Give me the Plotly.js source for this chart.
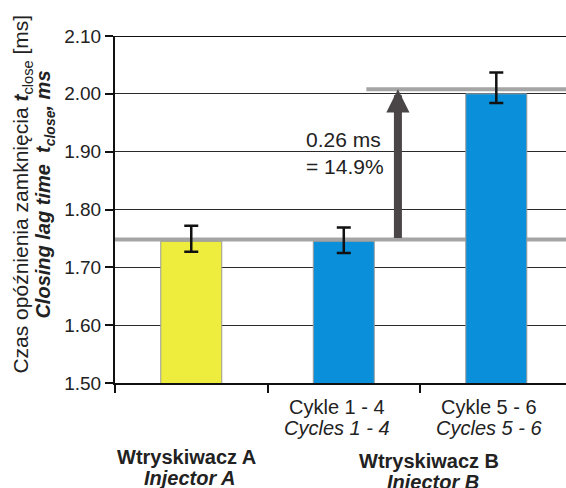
<!DOCTYPE html>
<html>
<head>
<meta charset="utf-8">
<script src="https://cdn.plot.ly/plotly-3.0.1.min.js"></script>
<style>
  html, body { margin: 0; padding: 0; background: #fff; }
  #chart { width: 566px; height: 488px; }
</style>
</head>
<body>
<div id="chart"></div>
<script>
// Closing lag time of injector A and injector B (two cycle groups)
const categories = ['A', 'B1-4', 'B5-6'];
const tickLabelsPL = ['', 'Cykle 1 - 4', 'Cykle 5 - 6'];
const tickLabelsEN = ['', 'Cycles 1 - 4', 'Cycles 5 - 6'];
const meanLag = [1.745, 1.745, 2.000];          // ms
const errPlus = [0.027, 0.024, 0.037];          // ms
const errMinus = [0.018, 0.020, 0.016];         // ms
const barColors = ['#eeec3c', '#0a8fda', '#0a8fda'];
const baseLevel = 1.748;                        // reference level, ms
const lagIncrease = 0.26;                       // ms
const yTicks = [1.5, 1.6, 1.7, 1.8, 1.9, 2.0, 2.1];

const upperLevel = baseLevel + lagIncrease;
const pct = (lagIncrease / baseLevel * 100).toFixed(1);

const FONT = 'Liberation Sans, Arial, Helvetica, sans-serif';
const TXT = '#222';

const bars = {
  type: 'bar',
  x: categories,
  y: meanLag,
  width: 0.4,
  marker: { color: barColors, line: { color: '#9a9a9a', width: 1 } },
  error_y: {
    type: 'data', symmetric: false,
    array: errPlus, arrayminus: errMinus,
    color: '#111', thickness: 2.5, width: 7
  },
  hoverinfo: 'skip'
};

const xEnd = 2.457;

const annotations = [];

// increase arrow between the two reference levels
annotations.push({
  x: 1.355, y: upperLevel, xref: 'x', yref: 'y',
  ax: 1.355, ay: baseLevel, axref: 'x', ayref: 'y',
  text: '', showarrow: true,
  arrowhead: 2, arrowsize: 0.58, arrowwidth: 8, arrowcolor: '#4a4546'
});
annotations.push({
  x: 0.741, y: 1.897, xref: 'x', yref: 'y',
  xanchor: 'left', yanchor: 'middle', align: 'left', showarrow: false,
  text: lagIncrease.toFixed(2) + ' ms<br>= ' + pct + '%',
  font: { family: FONT, size: 21, color: TXT }
});

// category labels (Polish / English)
for (let i = 0; i < categories.length; i++) {
  if (!tickLabelsPL[i]) continue;
  annotations.push({
    x: i, y: 0, xref: 'x', yref: 'paper', xshift: -7, yshift: -24,
    yanchor: 'middle', showarrow: false, text: tickLabelsPL[i],
    font: { family: FONT, size: 20, color: TXT }
  });
  annotations.push({
    x: i, y: 0, xref: 'x', yref: 'paper', xshift: -7, yshift: -45,
    yanchor: 'middle', showarrow: false, text: '<i>' + tickLabelsEN[i] + '</i>',
    font: { family: FONT, size: 20, color: TXT }
  });
}

// injector group labels
const groups = [
  { x: 0, dx: -5, pl: 'Wtryskiwacz A', en: 'Injector A', dy: 0 },
  { x: 1.5, dx: 9, pl: 'Wtryskiwacz B', en: 'Injector B', dy: 4 }
];
groups.forEach(g => {
  annotations.push({
    x: g.x, y: 0, xref: 'x', yref: 'paper', xshift: g.dx, yshift: -74 - g.dy,
    yanchor: 'middle', showarrow: false, text: '<b>' + g.pl + '</b>',
    font: { family: FONT, size: 20, color: TXT }
  });
  annotations.push({
    x: g.x, y: 0, xref: 'x', yref: 'paper', xshift: g.dx + 4, yshift: -95 - g.dy,
    yanchor: 'middle', showarrow: false, text: '<b><i>' + g.en + '</i></b>',
    font: { family: FONT, size: 20, color: TXT }
  });
});

// rotated axis title, two languages
annotations.push({
  x: 0, y: 0.543, xref: 'paper', yref: 'paper', xshift: -93,
  xanchor: 'center', yanchor: 'middle', textangle: -90, showarrow: false,
  text: 'Czas opóźnienia zamknięcia <b><i>t</i></b><sub>close</sub> [ms]',
  font: { family: FONT, size: 21, color: TXT }
});
annotations.push({
  x: 0, y: 0.543, xref: 'paper', yref: 'paper', xshift: -70,
  xanchor: 'center', yanchor: 'middle', textangle: -90, showarrow: false,
  text: '<b><i>Closing lag time  t<sub>close</sub>, ms</i></b>',
  font: { family: FONT, size: 20, color: TXT }
});

const layout = {
  width: 566, height: 488,
  margin: { l: 115, r: 0, t: 36, b: 105, pad: 0 },
  paper_bgcolor: '#fff', plot_bgcolor: '#fff',
  showlegend: false,
  font: { family: FONT, color: TXT },
  xaxis: {
    type: 'category', range: [-0.5, xEnd],
    showgrid: false, zeroline: false,
    showline: true, linecolor: '#111', linewidth: 2,
    ticks: 'outside', tickson: 'boundaries', ticklen: 8, tickwidth: 2, tickcolor: '#111',
    showticklabels: false
  },
  yaxis: {
    range: [1.5, 2.1], tickvals: yTicks, tickformat: '.2f',
    showgrid: true, gridcolor: '#2a2a2a', gridwidth: 1.2, zeroline: false,
    showline: true, linecolor: '#111', linewidth: 2,
    ticks: 'outside', ticklen: 8, tickwidth: 2, tickcolor: '#111',
    tickfont: { family: FONT, size: 19, color: '#222' }
  },
  shapes: [
    { type: 'line', layer: 'below', xref: 'x', yref: 'y',
      x0: -0.5, x1: xEnd, y0: baseLevel, y1: baseLevel,
      line: { color: '#a5a5a5', width: 4 } },
    { type: 'line', layer: 'below', xref: 'x', yref: 'y',
      x0: 1.148, x1: xEnd, y0: upperLevel, y1: upperLevel,
      line: { color: '#a5a5a5', width: 4 } },
    { type: 'line', layer: 'below', xref: 'x', yref: 'y',
      x0: -0.5, x1: xEnd, y0: 2.1, y1: 2.1,
      line: { color: '#111', width: 2 } }
  ],
  annotations: annotations
};

Plotly.newPlot('chart', [bars], layout, { staticPlot: true, displayModeBar: false });
</script>
</body>
</html>
